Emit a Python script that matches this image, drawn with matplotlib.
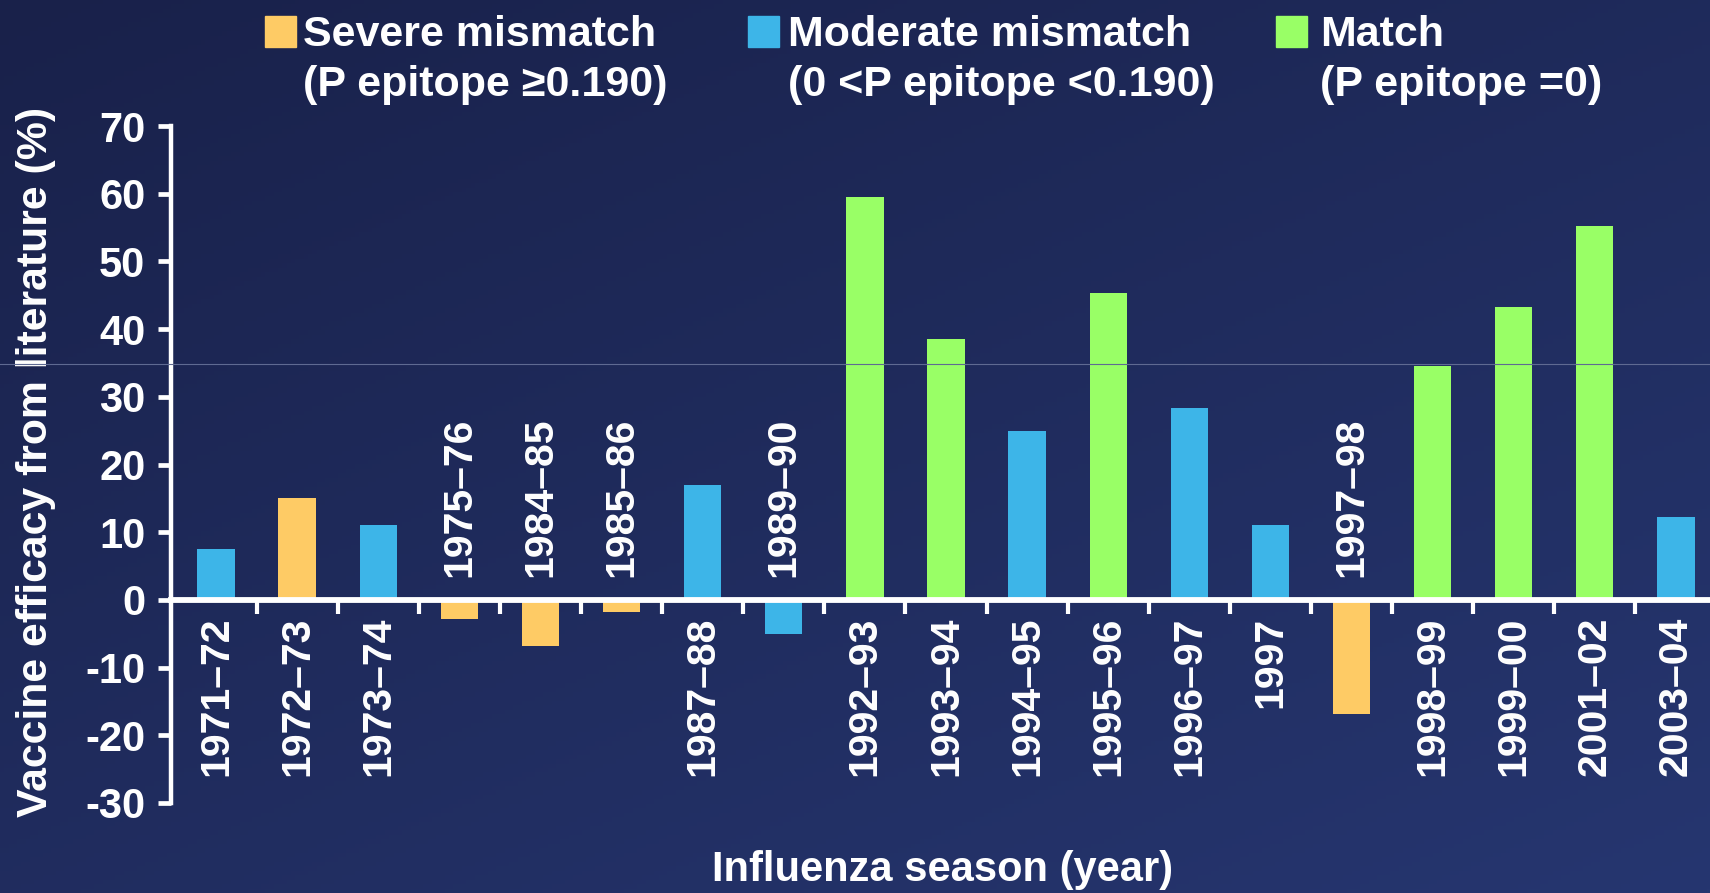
import numpy as np
import matplotlib
matplotlib.use("Agg")
import matplotlib.pyplot as plt
from matplotlib.patches import Rectangle
from matplotlib.lines import Line2D

plt.rcParams['font.family'] = ['Liberation Sans', 'DejaVu Sans']
plt.rcParams['font.weight'] = 'bold'
plt.rcParams['axes.unicode_minus'] = False

# ---- data ----
seasons = ["1971\u201372", "1972\u201373", "1973\u201374", "1975\u201376", "1984\u201385",
           "1985\u201386", "1987\u201388", "1989\u201390", "1992\u201393", "1993\u201394",
           "1994\u201395", "1995\u201396", "1996\u201397", "1997", "1997\u201398",
           "1998\u201399", "1999\u201300", "2001\u201302", "2003\u201304"]
efficacy = [7.5, 15.0, 11.0, -2.8, -6.8, -1.8, 17.0, -5.0, 59.5, 38.5,
            25.0, 45.3, 28.3, 11.0, -16.8, 34.6, 43.3, 55.2, 12.3]
category = ["moderate", "severe", "moderate", "severe", "severe",
            "severe", "moderate", "moderate", "match", "match",
            "moderate", "match", "moderate", "moderate", "severe",
            "match", "match", "match", "moderate"]
legend_keys = ["severe", "moderate", "match"]
legend_line1 = ["Severe mismatch", "Moderate mismatch", "Match"]
legend_line2 = ["(P epitope \u22650.190)", "(0 <P epitope <0.190)", "(P epitope =0)"]
yticks = [-30, -20, -10, 0, 10, 20, 30, 40, 50, 60, 70]

colors = {"severe": "#FECB65", "moderate": "#3DB5E8", "match": "#99FF66"}

W, H = 1710, 893
fig = plt.figure(figsize=(W / 100, H / 100), dpi=100)

# background gradient
bg = fig.add_axes([0, 0, 1, 1], zorder=-10)
bg.axis("off")
c_tl = np.array([25, 33, 74]) / 255
c_br = np.array([38, 54, 112]) / 255
yy, xx = np.mgrid[0:1:200j, 0:1:400j]
t = (0.45 * xx + 0.55 * yy)[..., None]
img = c_tl * (1 - t) + c_br * t
bg.imshow(img, aspect="auto", extent=[0, 1, 0, 1], origin="upper")
bg.set_xlim(0, 1)
bg.set_ylim(0, 1)

ax = fig.add_axes([171 / W, 1 - 803 / H, 1 - 171 / W, (803 - 126) / H])
ax.set_facecolor("none")

x = np.arange(len(seasons))
ax.bar(x, efficacy, width=0.46, color=[colors[c] for c in category], zorder=2)

ax.set_xlim(-0.555, 18.42)
ax.set_ylim(-30, 70)

for s in ["top", "right"]:
    ax.spines[s].set_visible(False)
ax.spines["left"].set_color("white")
ax.spines["left"].set_linewidth(3.2)
ax.spines["bottom"].set_position(("data", 0))
ax.spines["bottom"].set_color("white")
ax.spines["bottom"].set_linewidth(4.2)
ax.spines["bottom"].set_zorder(3)

ax.set_yticks(yticks)
ax.set_yticklabels([str(v) for v in yticks])
ax.tick_params(axis="y", colors="white", length=9.5, width=3.4, pad=9,
               labelsize=30, direction="out")
for lab in ax.get_yticklabels():
    lab.set_fontweight("bold")

ax.set_xticks(x[:-1] + 0.5)
ax.set_xticklabels([])
ax.tick_params(axis="x", colors="white", length=10, width=3.0, direction="out")

for i, (lab, v) in enumerate(zip(seasons, efficacy)):
    if v >= 0:
        ax.annotate(lab, xy=(i, 0), xytext=(0, -17), textcoords="offset pixels",
                    rotation=90, ha="center", va="top", color="white",
                    fontsize=29.5, fontweight="bold")
    else:
        ax.annotate(lab, xy=(i, 0), xytext=(0, 23), textcoords="offset pixels",
                    rotation=90, ha="center", va="bottom", color="white",
                    fontsize=29.5, fontweight="bold")

fig.text(36 / W, 1 - 462 / H, "Vaccine efficacy from literature (%)", rotation=90,
         ha="center", va="center", color="white", fontsize=30.8, fontweight="bold")
fig.text(943 / W, 1 - 870 / H, "Influenza season (year)",
         ha="center", va="center", color="white", fontsize=30, fontweight="bold")

# legend
patch_x = [265, 748, 1276]
text_x = [303, 788, 1320]
for k, px, tx, l1, l2 in zip(legend_keys, patch_x, text_x, legend_line1, legend_line2):
    fig.patches.append(Rectangle((px / W, 1 - 47 / H), 31 / W, 31 / H,
                                 transform=fig.transFigure, color=colors[k]))
    fig.text(tx / W, 1 - 46 / H, l1, ha="left", va="baseline", color="white",
             fontsize=31, fontweight="bold")
    fig.text(tx / W, 1 - 96 / H, l2, ha="left", va="baseline", color="white",
             fontsize=31, fontweight="bold")

# thin horizontal rule across the slide
fig.lines.append(Line2D([0, 1], [1 - 364 / H, 1 - 364 / H], transform=fig.transFigure,
                        color="#5F6A92", linewidth=0.8, zorder=5))

fig.savefig("out.png", dpi=100)
